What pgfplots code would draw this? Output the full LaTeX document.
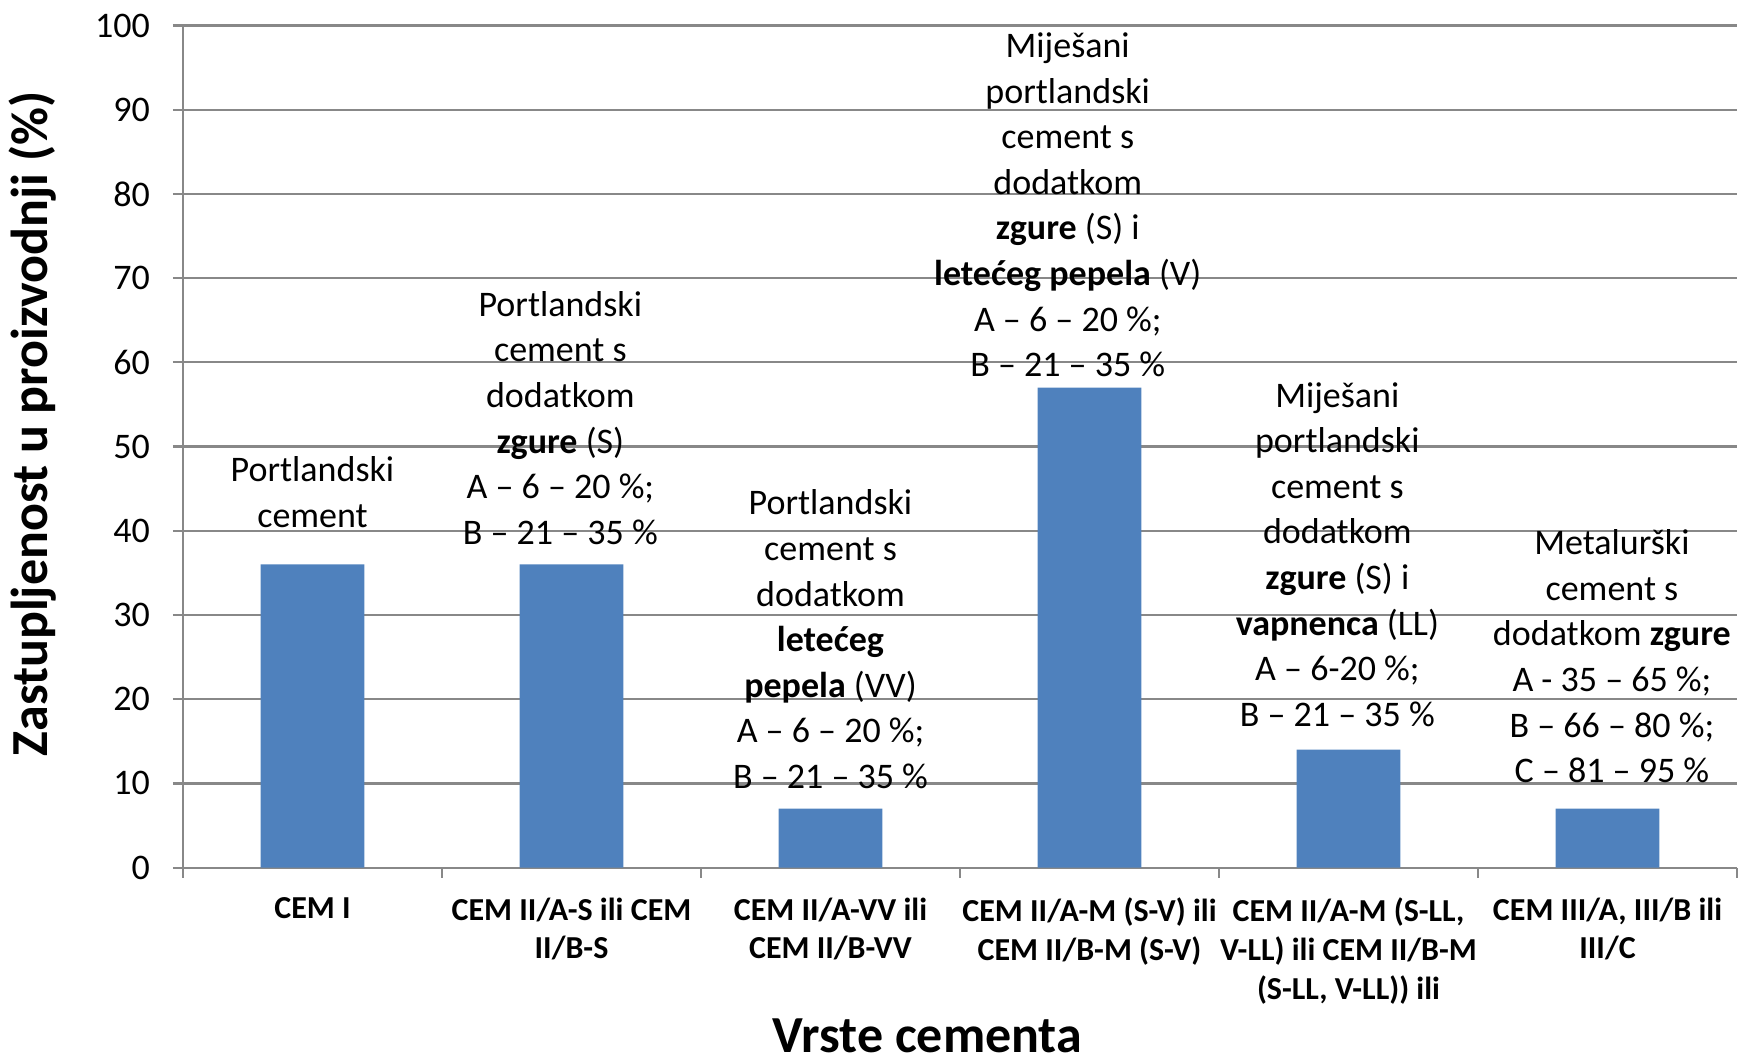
\documentclass[border=0pt]{standalone}
\usepackage{pgfplots}
\pgfplotsset{compat=1.18}
\usepackage{fontspec}
\setmainfont{Carlito}
\definecolor{barblue}{HTML}{4F81BD}
\definecolor{gridgray}{HTML}{888888}
\tikzset{ann/.style={font=\fontsize{18}{22.8}\selectfont, align=center, inner sep=0pt}}

\begin{document}
\begin{tikzpicture}
\path[use as bounding box] (-91.5pt,-96.5pt) rectangle (778.5pt,433.8pt);
\begin{axis}[
	scale only axis, width=777pt, height=421pt,
	xmin=-0.5, xmax=5.5, ymin=0, ymax=100,
	axis lines*=left,
	axis line style={gridgray, line width=1.1pt},
	ytick distance=10,
	ymajorgrids, major grid style={gridgray, line width=1.1pt},
	tick align=outside,
	major tick length=5pt, minor tick length=5pt,
	tick style={gridgray, line width=1.1pt},
	xtick={0,...,5},
	major x tick style={draw=none},
	minor xtick={-0.5,0.5,...,5.5},
	xticklabels={CEM I, CEM II/A-S ili CEM\\II/B-S, CEM II/A-VV ili\\CEM II/B-VV,
		CEM II/A-M (S-V) ili\\CEM II/B-M (S-V), {CEM II/A-M (S-LL,\\V-LL) ili CEM II/B-M\\(S-LL, V-LL)) ili},
		{CEM III/A, III/B ili\\III/C}},
	xticklabel style={font=\fontsize{16}{19.4}\selectfont\bfseries, align=center, anchor=north, yshift=-6.5pt},
	yticklabel style={font=\fontsize{18}{22}\selectfont, xshift=-8pt},
	/pgf/number format/assume math mode=true,
	ylabel={\textbf{Zastupljenost u proizvodnji (\%)}},
	ylabel style={font=\fontsize{26}{30}\selectfont, at={(axis description cs:-0.0965,0.527)}, anchor=center, rotate=0},
	xlabel={\textbf{Vrste cementa}},
	xlabel style={font=\fontsize{26}{30}\selectfont, inner sep=0pt, at={(axis description cs:0.479,-0.2)}, anchor=center},
	clip=false,
]
\addplot[ybar, bar width=0.4, fill=barblue, draw=none] coordinates {
	(0,36) (1,36) (2,7) (3,57) (4,14) (5,7)
};
\node[ann] at (axis cs:0,44.6) {Portlandski\\cement};
\node[ann] at (axis cs:0.957,53.4) {Portlandski\\cement s\\dodatkom\\\textbf{zgure} (S)\\A – 6 – 20 \%;\\B – 21 – 35 \%};
\node[ann] at (axis cs:2,27.1) {Portlandski\\cement s\\dodatkom\\\textbf{letećeg}\\\textbf{pepela} (VV)\\A – 6 – 20 \%;\\B – 21 – 35 \%};
\node[ann] at (axis cs:2.916,78.7) {Miješani\\portlandski\\cement s\\dodatkom\\\textbf{zgure} (S) i\\\textbf{letećeg pepela} (V)\\A – 6 – 20 \%;\\B – 21 – 35 \%};
\node[ann] at (axis cs:3.957,37.2) {Miješani\\portlandski\\cement s\\dodatkom\\\textbf{zgure} (S) i\\\textbf{vapnenca} (LL)\\A – 6-20 \%;\\B – 21 – 35 \%};
\node[ann] at (axis cs:5.017,25.1) {Metalurški\\cement s\\dodatkom \textbf{zgure}\\A - 35 – 65 \%;\\B – 66 – 80 \%;\\C – 81 – 95 \%};
\end{axis}
\end{tikzpicture}
\end{document}
